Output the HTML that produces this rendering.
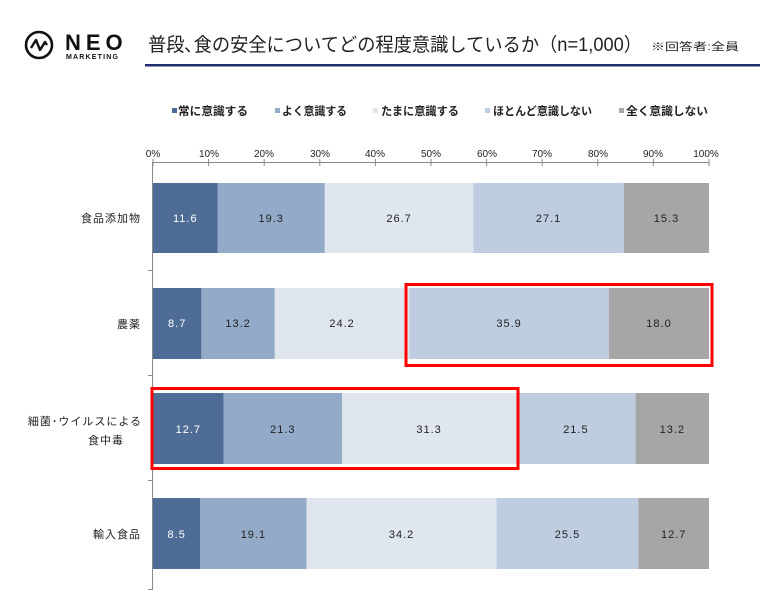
<!DOCTYPE html>
<html><head><meta charset="utf-8"><style>
html,body{margin:0;padding:0;background:#fff;}
svg{display:block;font-family:"Liberation Sans","Noto Sans CJK JP",sans-serif;}
</style></head><body>
<svg width="760" height="607" viewBox="0 0 760 607" xmlns="http://www.w3.org/2000/svg">
<!-- logo -->
<circle cx="39" cy="45" r="13" fill="none" stroke="#111" stroke-width="2.6"/>
<polyline points="31,48 36,40 40,50 45,42 47,45" fill="none" stroke="#111" stroke-width="2.4" stroke-linejoin="round"/>
<text x="65" y="50" font-size="22" font-weight="bold" letter-spacing="5" fill="#111">NEO</text>
<text x="66" y="59" font-size="7" font-weight="bold" letter-spacing="1.2" fill="#111">MARKETING</text>
<!-- title -->
<text x="148" y="51" font-size="19" fill="#222" textLength="494" lengthAdjust="spacingAndGlyphs">普段､食の安全についてどの程度意識しているか（n=1,000）</text>
<text x="651" y="50" font-size="10.5" fill="#222" textLength="88" lengthAdjust="spacingAndGlyphs">※回答者:全員</text>
<rect x="145" y="64" width="615" height="2.5" fill="#1f2d6e"/>
<!-- legend -->
<g font-size="11.5" fill="#222" font-weight="bold">
<rect x="172" y="108" width="5" height="5" fill="#4e6c96"/><text x="178" y="115" textLength="70" lengthAdjust="spacingAndGlyphs">常に意識する</text>
<rect x="275" y="108" width="5" height="5" fill="#93aac8"/><text x="282" y="115" textLength="65" lengthAdjust="spacingAndGlyphs">よく意識する</text>
<rect x="373" y="108" width="5" height="5" fill="#dfe6ee"/><text x="381" y="115" textLength="78" lengthAdjust="spacingAndGlyphs">たまに意識する</text>
<rect x="485" y="108" width="5" height="5" fill="#bfcde0"/><text x="493" y="115" textLength="99" lengthAdjust="spacingAndGlyphs">ほとんど意識しない</text>
<rect x="619" y="108" width="5" height="5" fill="#a6a6a6"/><text x="626" y="115" textLength="82" lengthAdjust="spacingAndGlyphs">全く意識しない</text>
</g>
<!-- axis labels -->
<g font-size="10" fill="#222" text-anchor="middle">
<text x="153" y="157">0%</text><text x="209" y="157">10%</text><text x="264" y="157">20%</text><text x="320" y="157">30%</text><text x="375" y="157">40%</text><text x="431" y="157">50%</text><text x="487" y="157">60%</text><text x="542" y="157">70%</text><text x="598" y="157">80%</text><text x="653" y="157">90%</text><text x="706" y="157">100%</text>
</g>
<g stroke="#888" stroke-width="1">
<line x1="153" y1="162.5" x2="709" y2="162.5"/>
<line x1="153" y1="159" x2="153" y2="166"/><line x1="208.6" y1="159" x2="208.6" y2="166"/><line x1="264.2" y1="159" x2="264.2" y2="166"/><line x1="319.8" y1="159" x2="319.8" y2="166"/><line x1="375.4" y1="159" x2="375.4" y2="166"/><line x1="431" y1="159" x2="431" y2="166"/><line x1="486.6" y1="159" x2="486.6" y2="166"/><line x1="542.2" y1="159" x2="542.2" y2="166"/><line x1="597.8" y1="159" x2="597.8" y2="166"/><line x1="653.4" y1="159" x2="653.4" y2="166"/><line x1="709" y1="159" x2="709" y2="166"/>
<line x1="152.5" y1="162" x2="152.5" y2="590"/>
<line x1="148" y1="270.5" x2="153" y2="270.5"/><line x1="148" y1="375.5" x2="153" y2="375.5"/><line x1="148" y1="480.5" x2="153" y2="480.5"/><line x1="148" y1="589.5" x2="153" y2="589.5"/>
</g>
<!-- bars -->
<g>
<rect x="153" y="183" width="64.5" height="70" fill="#4e6c96"/><rect x="217.5" y="183" width="107.3" height="70" fill="#93aac8"/><rect x="324.8" y="183" width="148.5" height="70" fill="#dfe6ee"/><rect x="473.3" y="183" width="150.6" height="70" fill="#bfcde0"/><rect x="623.9" y="183" width="85.1" height="70" fill="#a6a6a6"/>
<rect x="153" y="288" width="48.4" height="71" fill="#4e6c96"/><rect x="201.4" y="288" width="73.4" height="71" fill="#93aac8"/><rect x="274.8" y="288" width="134.5" height="71" fill="#dfe6ee"/><rect x="409.3" y="288" width="199.6" height="71" fill="#bfcde0"/><rect x="608.9" y="288" width="100.1" height="71" fill="#a6a6a6"/>
<rect x="153" y="393" width="70.6" height="71" fill="#4e6c96"/><rect x="223.6" y="393" width="118.4" height="71" fill="#93aac8"/><rect x="342" y="393" width="174.1" height="71" fill="#dfe6ee"/><rect x="516.1" y="393" width="119.5" height="71" fill="#bfcde0"/><rect x="635.6" y="393" width="73.4" height="71" fill="#a6a6a6"/>
<rect x="153" y="498" width="47.3" height="71" fill="#4e6c96"/><rect x="200.3" y="498" width="106.2" height="71" fill="#93aac8"/><rect x="306.5" y="498" width="190.1" height="71" fill="#dfe6ee"/><rect x="496.6" y="498" width="141.8" height="71" fill="#bfcde0"/><rect x="638.4" y="498" width="70.6" height="71" fill="#a6a6a6"/>
</g>
<g font-size="11" text-anchor="middle" fill="#222" letter-spacing="1">
<text x="185.3" y="222" fill="#fff">11.6</text><text x="271.2" y="222">19.3</text><text x="399.1" y="222">26.7</text><text x="548.6" y="222">27.1</text><text x="666.5" y="222">15.3</text>
<text x="177.2" y="327" fill="#fff">8.7</text><text x="238.1" y="327">13.2</text><text x="342.1" y="327">24.2</text><text x="509.1" y="327">35.9</text><text x="659" y="327">18.0</text>
<text x="188.3" y="433" fill="#fff">12.7</text><text x="282.8" y="433">21.3</text><text x="429.1" y="433">31.3</text><text x="575.9" y="433">21.5</text><text x="672.3" y="433">13.2</text>
<text x="176.7" y="538" fill="#fff">8.5</text><text x="253.4" y="538">19.1</text><text x="401.6" y="538">34.2</text><text x="567.5" y="538">25.5</text><text x="673.7" y="538">12.7</text>
</g>
<!-- category labels -->
<g font-size="11" fill="#222" text-anchor="end" letter-spacing="1">
<text x="141" y="222">食品添加物</text>
<text x="141" y="328">農薬</text>
<text x="142" y="425">細菌･ウイルスによる</text>
<text x="106" y="444" text-anchor="middle">食中毒</text>
<text x="141" y="538">輸入食品</text>
</g>
<!-- red highlight boxes -->
<rect x="406" y="284.5" width="306" height="81" fill="none" stroke="#ff0000" stroke-width="3"/>
<rect x="152" y="388.5" width="366" height="80" fill="none" stroke="#ff0000" stroke-width="3"/>
</svg>
</body></html>
